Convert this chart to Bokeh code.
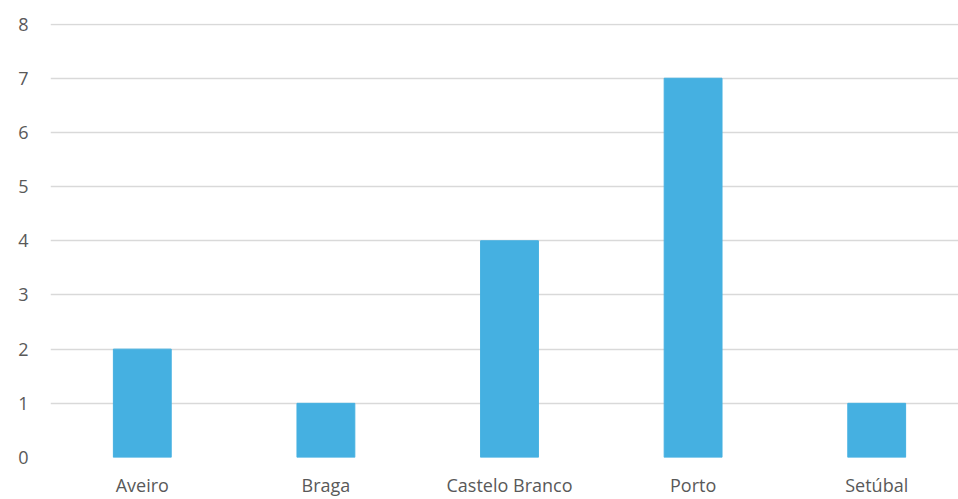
from bokeh.plotting import figure
from bokeh.models import Range1d, FixedTicker, ColumnDataSource
from bokeh.embed import file_html
from bokeh.resources import INLINE

categories = ["Aveiro", "Braga", "Castelo Branco", "Porto", "Setúbal"]
values = [2, 1, 4, 7, 1]
y_ticks = [0, 1, 2, 3, 4, 5, 6, 7, 8]

xs = list(range(len(categories)))
src = ColumnDataSource(dict(x=xs, top=values))

p = figure(width=958, height=499, output_backend="svg", toolbar_location=None,
           x_range=Range1d(-0.5, len(categories) - 0.5 - 10 / 183.6),
           y_range=Range1d(0, 8.01),
           min_border_left=50, min_border_right=0, min_border_top=23, min_border_bottom=41)
p.vbar(x="x", top="top", width=0.315, source=src, color="#45b0e1")

p.outline_line_color = None
p.background_fill_color = "white"
p.border_fill_color = "white"

p.xaxis.ticker = FixedTicker(ticks=xs)
p.xaxis.major_label_overrides = {i: c for i, c in enumerate(categories)}
p.yaxis.ticker = FixedTicker(ticks=y_ticks)

for ax in (p.xaxis, p.yaxis):
    ax.axis_line_color = None
    ax.major_tick_line_color = None
    ax.minor_tick_line_color = None
    ax.major_tick_out = 0
    ax.major_tick_in = 0
    ax.minor_tick_out = 0
    ax.minor_tick_in = 0
    ax.major_label_text_color = "#595959"
    ax.major_label_text_font = "Open Sans"
    ax.major_label_text_font_size = "18px"
p.yaxis.major_label_standoff = 22
p.xaxis.major_label_standoff = 15

p.xgrid.grid_line_color = None
p.ygrid.grid_line_color = "#d9d9d9"
p.ygrid.grid_line_width = 1.5

open("out.html", "w").write(file_html(p, INLINE))
